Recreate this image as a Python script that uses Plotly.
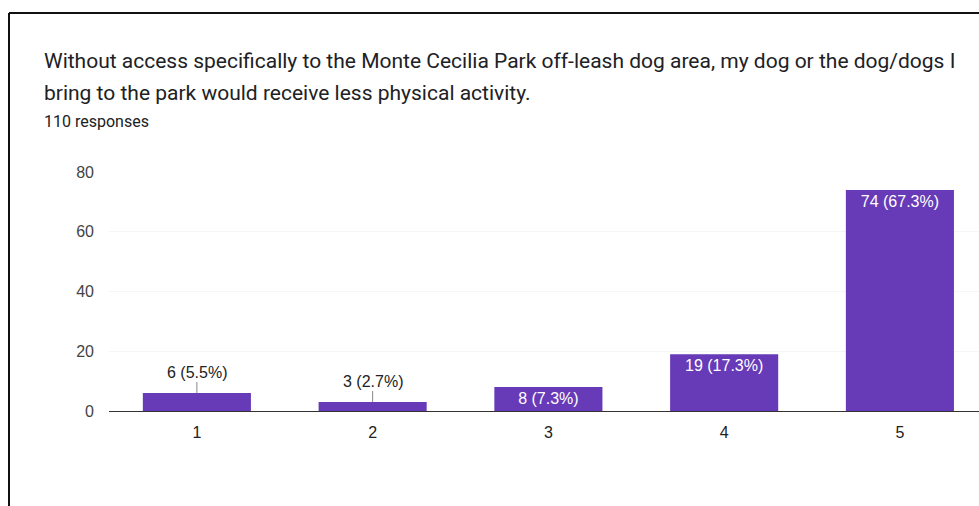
import plotly.graph_objects as go

categories = ["1", "2", "3", "4", "5"]
counts = [6, 3, 8, 19, 74]
total = 110
y_ticks = [0, 20, 40, 60, 80]

title_lines = [
    "Without access specifically to the Monte Cecilia Park off-leash dog area, my dog or the dog/dogs I",
    "bring to the park would receive less physical activity.",
]
subtitle = f"{total} responses"

labels = [f"{c} ({c / total * 100:.1f}%)" for c in counts]

W, H = 979, 506
L, R, T, B = 109, 0, 172, 95
pw, ph = W - L - R, H - T - B


def px(x):
    return (x - L) / pw


def py(y):
    return (H - B - y) / ph


# small bars get their label outside with a leader line
outside = [c < 8 for c in counts]
inside_text = ["" if o else lab for o, lab in zip(outside, labels)]

fig = go.Figure(go.Bar(
    x=categories, y=counts, width=0.615,
    marker=dict(color="#673ab7", line=dict(width=0)),
    text=inside_text, textposition="inside", insidetextanchor="end",
    textfont=dict(color="white", size=16, family="Liberation Sans, Arial"),
    hoverinfo="skip",
))

for i, (c, lab, o) in enumerate(zip(counts, labels, outside)):
    if o:
        fig.add_annotation(
            x=i, y=c, text=lab, showarrow=True, arrowhead=0,
            arrowwidth=1, arrowcolor="#888", ax=0, ay=-21,
            font=dict(size=16, color="#222", family="Liberation Sans, Arial"),
        )

fig.add_annotation(xref="paper", yref="paper", x=px(42), y=py(61), text=title_lines[0],
                   showarrow=False, xanchor="left", yanchor="middle",
                   font=dict(family="Roboto", size=21, color="#202124"))
fig.add_annotation(xref="paper", yref="paper", x=px(42), y=py(93), text=title_lines[1],
                   showarrow=False, xanchor="left", yanchor="middle",
                   font=dict(family="Roboto", size=21, color="#202124"))
fig.add_annotation(xref="paper", yref="paper", x=px(42), y=py(121), text=subtitle,
                   showarrow=False, xanchor="left", yanchor="middle",
                   font=dict(family="Roboto", size=16, color="#202124"))

# frame around the card (top and left visible)
fig.add_shape(type="line", xref="paper", yref="paper", x0=px(9), x1=px(W + 5),
              y0=py(13), y1=py(13), line=dict(color="#111", width=2))
fig.add_shape(type="line", xref="paper", yref="paper", x0=px(9), x1=px(9),
              y0=py(13), y1=py(H + 5), line=dict(color="#111", width=2))

fig.update_layout(
    width=W, height=H,
    margin=dict(l=L, r=R, t=T, b=B),
    paper_bgcolor="white", plot_bgcolor="white",
    showlegend=False,
    font=dict(family="Liberation Sans, Arial", size=16, color="#444"),
)
fig.update_xaxes(type="category", range=[-0.5, 4.45], showline=True, linecolor="#333",
                 linewidth=1, ticks="", ticklabelstandoff=7,
                 tickfont=dict(size=16, color="#222"))
fig.update_yaxes(range=[0, 80], tickvals=y_ticks, showgrid=True, gridcolor="#f6f6f6",
                 zeroline=False, ticks="", ticklabelstandoff=14,
                 tickfont=dict(size=16, color="#444"))

fig.write_html("out.html", config={"displayModeBar": False},
               post_script="document.body.style.margin='0';")
